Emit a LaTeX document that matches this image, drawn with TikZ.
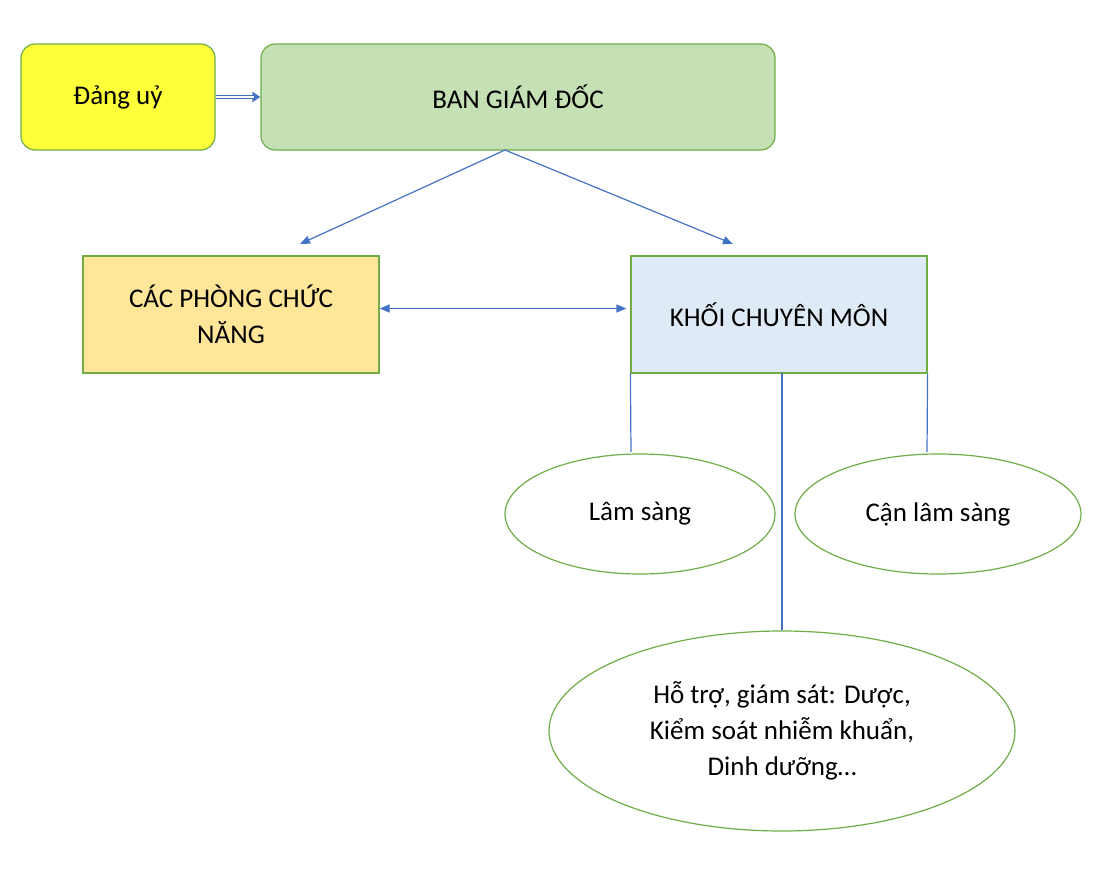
\documentclass[tikz,border=0pt]{standalone}
\usepackage{fontspec}
\setmainfont{Carlito}
\usetikzlibrary{arrows.meta,shapes.geometric}
\definecolor{gbord}{HTML}{70AD47}
\definecolor{blu}{HTML}{4472C4}
\tikzset{
 box/.style={draw=gbord,line width=1.2pt,align=center,font=\fontsize{27}{36}\selectfont,inner sep=0pt},
 ell/.style={box,ellipse,fill=white},
 conn/.style={draw=blu,line width=1.2pt},
 arr/.style={conn,-{Triangle[length=10pt,width=8pt]}}
}
\begin{document}
\begin{tikzpicture}[x=1pt,y=-1pt]
\useasboundingbox (0,0) rectangle (1108,886);
\node[box,rounded corners=14pt,fill={rgb,255:red,255;green,255;blue,58},minimum width=194pt,minimum height=106pt] (du) at (118,97) {Đảng uỷ};
\node[box,rounded corners=14pt,fill={rgb,255:red,197;green,224;blue,180},minimum width=514pt,minimum height=106pt] (bgd) at (518,97) {BAN GIÁM ĐỐC};
\node[box,fill={rgb,255:red,255;green,230;blue,153},minimum width=296pt,minimum height=117pt] (cp) at (231,314.5) {CÁC PHÒNG CHỨC\\NĂNG};
\node[box,fill={rgb,255:red,222;green,235;blue,247},minimum width=296pt,minimum height=117pt] (kc) at (779,314.5) {KHỐI CHUYÊN MÔN};
\node[ell,minimum width=270pt,minimum height=120pt] (ls) at (640,514) {Lâm sàng};
\node[ell,minimum width=286pt,minimum height=120pt] (cls) at (938,514) {Cận lâm sàng};
\node[ell,minimum width=466pt,minimum height=200pt] (ht) at (782,731) {Hỗ trợ, giám sát: Dược,\\Kiểm soát nhiễm khuẩn,\\Dinh dưỡng…};
\draw[draw=blu,line width=4pt,-{Triangle[length=8pt,width=10pt]}] (du.east) -- (bgd.west);
\draw[draw=white,line width=1.2pt,shorten >=6pt] (du.east) -- (bgd.west);
\coordinate (src) at (505,150);
\coordinate (a1) at (300,244); \coordinate (a2) at (733,244);
\draw[arr] (src) -- (a1);
\draw[arr] (src) -- (a2);
\draw[conn,{Triangle[length=10pt,width=8pt]}-{Triangle[length=10pt,width=8pt]}] ([yshift=6pt]cp.east) -- ([xshift=-4pt,yshift=6pt]kc.west);
\coordinate (e1) at (631,452); \coordinate (e2) at (927,452);
\draw[conn] (kc.south west) -- (e1);
\draw[conn] (kc.south east) -- (e2);
\draw[conn] (782,373) -- (ht.north);
\end{tikzpicture}
\end{document}
